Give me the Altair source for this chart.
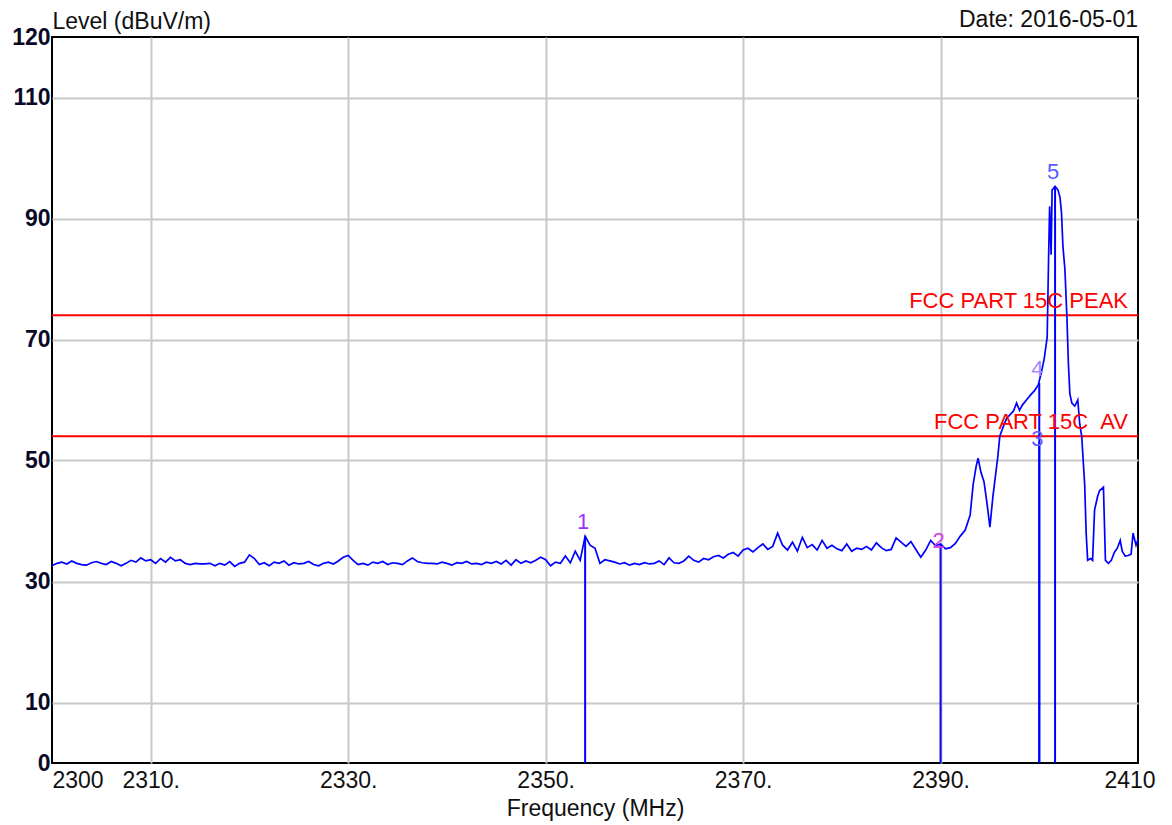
import altair as alt
import pandas as pd

# ---------------- data ----------------
# sweep below 2390 MHz (noise floor)
freq_low = [
    2300.0, 2300.5, 2301.0, 2301.5, 2302.0, 2302.5, 2303.0, 2303.5, 2304.0, 2304.5,
    2305.0, 2305.5, 2306.0, 2306.5, 2307.0, 2307.5, 2308.0, 2308.5, 2309.0, 2309.5,
    2310.0, 2310.5, 2311.0, 2311.5, 2312.0, 2312.5, 2313.0, 2313.5, 2314.0, 2314.5,
    2315.0, 2315.5, 2316.0, 2316.5, 2317.0, 2317.5, 2318.0, 2318.5, 2319.0, 2319.5,
    2320.0, 2320.5, 2321.0, 2321.5, 2322.0, 2322.5, 2323.0, 2323.5, 2324.0, 2324.5,
    2325.0, 2325.5, 2326.0, 2326.5, 2327.0, 2327.5, 2328.0, 2328.5, 2329.0, 2329.5,
    2330.0, 2330.5, 2331.0, 2331.5, 2332.0, 2332.5, 2333.0, 2333.5, 2334.0, 2334.5,
    2335.0, 2335.5, 2336.0, 2336.5, 2337.0, 2337.5, 2338.0, 2338.5, 2339.0, 2339.5,
    2340.0, 2340.5, 2341.0, 2341.5, 2342.0, 2342.5, 2343.0, 2343.5, 2344.0, 2344.5,
    2345.0, 2345.5, 2346.0, 2346.5, 2347.0, 2347.5, 2348.0, 2348.5, 2349.0, 2349.5,
    2350.0, 2350.5, 2351.0, 2351.5, 2352.0, 2352.5, 2353.0, 2353.5, 2354.0, 2354.5,
    2355.0, 2355.5, 2356.0, 2356.5, 2357.0, 2357.5, 2358.0, 2358.5, 2359.0, 2359.5,
    2360.0, 2360.5, 2361.0, 2361.5, 2362.0, 2362.5, 2363.0, 2363.5, 2364.0, 2364.5,
    2365.0, 2365.5, 2366.0, 2366.5, 2367.0, 2367.5, 2368.0, 2368.5, 2369.0, 2369.5,
    2370.0, 2370.5, 2371.0, 2371.5, 2372.0, 2372.5, 2373.0, 2373.5, 2374.0, 2374.5,
    2375.0, 2375.5, 2376.0, 2376.5, 2377.0, 2377.5, 2378.0, 2378.5, 2379.0, 2379.5,
    2380.0, 2380.5, 2381.0, 2381.5, 2382.0, 2382.5, 2383.0, 2383.5, 2384.0, 2384.5,
    2385.0, 2385.5, 2386.0, 2386.5, 2387.0, 2387.5, 2388.0, 2388.5, 2389.0, 2389.5,
    2390.0,
]
level_low = [
    32.6, 33.0, 33.2, 32.9, 33.4, 33.0, 32.8, 32.7, 33.1, 33.3,
    33.0, 32.8, 33.3, 33.0, 32.6, 33.0, 33.5, 33.2, 33.9, 33.4,
    33.6, 33.0, 33.8, 33.2, 34.0, 33.4, 33.6, 33.0, 32.8, 33.0,
    32.9, 32.9, 33.0, 32.6, 33.0, 32.7, 33.3, 32.5, 33.0, 33.2,
    34.4, 33.8, 32.8, 33.1, 32.6, 33.2, 33.0, 33.4, 32.7, 33.1,
    32.9, 33.0, 33.3, 32.8, 32.6, 33.0, 33.2, 32.9, 33.4, 34.0,
    34.3, 33.5, 32.8, 33.0, 32.7, 33.2, 33.0, 33.3, 32.8, 33.1,
    33.0, 32.8, 33.4, 33.9, 33.3, 33.1, 33.0, 33.0, 32.9, 33.2,
    33.0, 32.7, 33.1, 33.0, 33.3, 32.9, 33.0, 32.8, 33.2, 33.0,
    33.3, 32.9, 33.5, 32.7, 33.6, 33.0, 33.4, 33.1, 33.5, 34.0,
    33.6, 32.6, 33.2, 33.0, 34.2, 33.1, 35.0, 33.5, 37.5, 36.0,
    35.5, 33.0, 33.6, 33.4, 33.2, 32.9, 33.1, 32.7, 33.0, 32.8,
    33.1, 32.9, 33.0, 33.4, 32.8, 33.9, 33.1, 33.0, 33.4, 34.2,
    33.5, 33.2, 33.8, 33.6, 34.1, 34.3, 33.9, 34.5, 34.8, 34.2,
    35.2, 35.5, 34.9, 35.6, 36.2, 35.3, 35.8, 38.0, 36.0, 35.2,
    36.5, 35.0, 37.3, 35.6, 36.1, 35.2, 36.8, 35.5, 36.0, 35.4,
    35.1, 36.2, 35.0, 35.5, 35.3, 35.8, 35.2, 36.4, 35.6, 35.1,
    35.3, 37.2, 36.5, 35.8, 36.6, 35.3, 34.0, 35.2, 36.8, 35.9,
    36.2,
]
# sweep above 2390 MHz (band edge and carrier)
freq_high = [
    2390.5, 2391.0, 2391.5, 2392.0, 2392.5, 2393.0, 2393.3, 2393.6, 2393.8, 2394.1,
    2394.4, 2394.7, 2395.0, 2395.3, 2395.6, 2395.8, 2396.0, 2396.4, 2396.7, 2397.0,
    2397.4, 2397.7, 2398.0, 2398.3, 2398.7, 2399.1, 2399.5, 2399.9, 2400.2, 2400.5,
    2400.8, 2400.95, 2401.05, 2401.2, 2401.3, 2401.6, 2401.9, 2402.1, 2402.25, 2402.4,
    2402.6, 2402.8, 2402.95, 2403.1, 2403.3, 2403.6, 2403.9, 2404.1, 2404.3, 2404.6,
    2404.75, 2404.9, 2405.2, 2405.4, 2405.6, 2405.9, 2406.1, 2406.5, 2406.7, 2407.0,
    2407.3, 2407.6, 2407.9, 2408.2, 2408.4, 2408.7, 2409.0, 2409.3, 2409.5, 2409.8,
    2410.0,
]
level_high = [
    35.4, 35.6, 36.3, 37.5, 38.5, 41.0, 46.0, 49.0, 50.4, 48.0,
    46.5, 43.0, 39.0, 44.0, 48.0, 50.6, 54.0, 55.8, 57.0, 57.5,
    58.2, 59.5, 58.3, 59.2, 60.0, 60.8, 61.5, 62.5, 64.5, 66.8,
    70.4, 84.0, 92.0, 84.0, 94.7, 95.3, 94.7, 93.5, 91.0, 85.3,
    81.5, 73.7, 66.0, 61.0, 59.5, 59.0, 60.0, 56.0, 54.0, 46.0,
    38.0, 33.5, 33.8, 33.5, 41.8, 44.0, 45.0, 45.6, 33.5, 33.0,
    33.5, 34.8, 35.5, 36.8, 35.0, 34.2, 34.3, 34.5, 38.0, 36.0,
    37.0,
]

# markers
marker_no = ["1", "2", "3", "4", "5"]
marker_freq = [2354.0, 2390.0, 2400.0, 2400.0, 2401.6]
marker_level = [37.5, 36.2, 53.0, 62.8, 95.3]
marker_colors = ["#9b30ff", "#d040e0", "#6a5cff", "#a08cff", "#5b5bff"]
marker_label_style = ["top", "mid", "mid", "top", "top"]

# limit lines
limit_names = ["FCC PART 15C PEAK", "FCC PART 15C\u00a0\u00a0AV"]
limit_levels = [74, 54]

x_ticks = [2300, 2310, 2330, 2350, 2370, 2390, 2410]
y_ticks = [0, 10, 30, 50, 70, 90, 110, 120]
date_text = "Date: 2016-05-01"

# ---------------- chart ----------------
FONT = "Liberation Sans"
W, H = 1086, 726

trace = pd.DataFrame({"freq": freq_low + freq_high, "level": level_low + level_high})
markers = pd.DataFrame({
    "no": marker_no, "freq": marker_freq, "level": marker_level,
    "base": [0] * len(marker_no), "style": marker_label_style,
})
limits = pd.DataFrame({"name": limit_names, "level": limit_levels})
date_df = pd.DataFrame({"t": [date_text]})

x_scale = alt.Scale(domain=[2300, 2410], nice=False, zero=False)
y_scale = alt.Scale(domain=[0, 120], nice=False, zero=True)

x_axis = alt.Axis(
    values=x_ticks, format="d",
    labelExpr=("datum.value == 2300 ? datum.label : "
               "(datum.value == 2410 ? datum.label + '\u2800' : datum.label + '.')"),
    labelAlign={"condition": {"test": "datum.value == 2300", "value": "left"}, "value": "center"},
    labelFlush=False, labelFont=FONT, labelFontSize=23, labelColor="#101010",
    labelPadding=6, ticks=False, domain=False,
    grid=True, gridColor="#c8c8c8", gridWidth=2,
    gridOpacity={"condition": {"test": "datum.value == 2300 || datum.value == 2410", "value": 0}, "value": 1},
    title="Frequency (MHz)", titleFont=FONT, titleFontSize=23, titleFontWeight="normal",
    titleColor="#101010", titlePadding=5,
)
y_axis = alt.Axis(
    values=y_ticks, format="d",
    labelFont=FONT, labelFontSize=23, labelFontWeight="bold", labelColor="#0a0a28",
    labelPadding=2, ticks=False, domain=False,
    grid=True, gridColor="#c8c8c8", gridWidth=2,
    gridOpacity={"condition": {"test": "datum.value == 0 || datum.value == 120", "value": 0}, "value": 1},
    title="Level (dBuV/m)", titleFont=FONT, titleFontSize=23, titleFontWeight="normal",
    titleColor="#101010", titleAngle=0, titleAlign="left", titleBaseline="alphabetic",
    titleX=0, titleY=-9,
)

X = alt.X("freq:Q", scale=x_scale, axis=x_axis)
Y = alt.Y("level:Q", scale=y_scale, axis=y_axis)

line = alt.Chart(trace).mark_line(color="#0000ff", strokeWidth=1.7, interpolate="linear").encode(x=X, y=Y)

limit_rules = alt.Chart(limits).mark_rule(color="#ff0000", strokeWidth=2).encode(y=Y)
limit_text = alt.Chart(limits).mark_text(
    color="#ff0000", font=FONT, fontSize=22, align="right", baseline="alphabetic", dx=-10, dy=-7
).encode(x=alt.value(W), y=Y, text="name:N")

marker_rules = alt.Chart(markers).mark_rule(color="#0000ff", strokeWidth=2).encode(
    x=X, y=alt.Y("base:Q", scale=y_scale, axis=y_axis), y2="level:Q"
)
color_enc = alt.Color("no:N", scale=alt.Scale(domain=marker_no, range=marker_colors), legend=None)
marker_text_top = alt.Chart(markers).transform_filter("datum.style == 'top'").mark_text(
    font=FONT, fontSize=22, align="center", baseline="bottom", dx=-2, dy=-2
).encode(x=X, y=Y, text="no:N", color=color_enc)
marker_text_mid = alt.Chart(markers).transform_filter("datum.style == 'mid'").mark_text(
    font=FONT, fontSize=22, align="center", baseline="middle", dx=-2, dy=-3
).encode(x=X, y=Y, text="no:N", color=color_enc)

date_mark = alt.Chart(date_df).mark_text(
    font=FONT, fontSize=23, align="right", baseline="alphabetic", color="#101010"
).encode(x=alt.value(W), y=alt.value(-10), text="t:N")

chart = alt.layer(
    limit_rules, marker_rules, line, limit_text, marker_text_top, marker_text_mid, date_mark
).properties(
    width=W, height=H,
    autosize=alt.AutoSizeParams(type="none"),
    padding={"left": 44, "top": 29, "right": 26, "bottom": 58},
    background="#ffffff",
).configure_view(stroke="#000000", strokeWidth=2)

chart.save("out.html", embed_options={"renderer": "svg", "actions": False})
